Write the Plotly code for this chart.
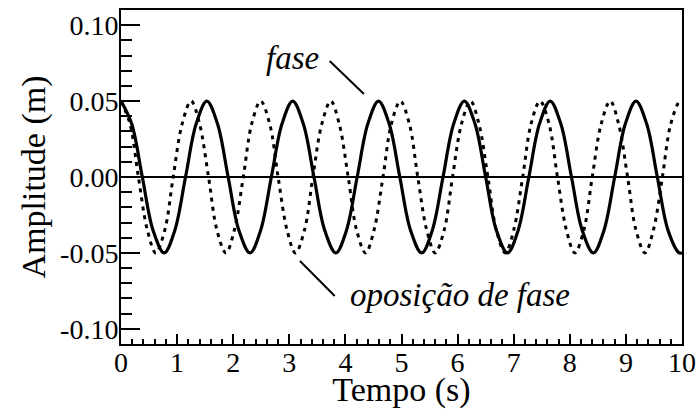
import plotly.graph_objects as go

# Solid curve ("fase"): times (s) and amplitudes (m)
t_fase = [0.00, 0.19, 0.38, 0.57, 0.77, 0.96, 1.15, 1.34, 1.53, 1.72, 1.91, 2.10,
          2.30, 2.49, 2.68, 2.87, 3.06, 3.25, 3.44, 3.63, 3.83, 4.02, 4.21, 4.40,
          4.59, 4.78, 4.97, 5.16, 5.36, 5.55, 5.74, 5.93, 6.12, 6.31, 6.50, 6.69,
          6.89, 7.08, 7.27, 7.46, 7.65, 7.84, 8.03, 8.22, 8.42, 8.61, 8.80, 8.99,
          9.18, 9.37, 9.56, 9.75, 9.95, 10.00]
a_fase = [0.05, 0.035, 0.0, -0.035, -0.05, -0.035, 0.0, 0.035,
          0.05, 0.035, 0.0, -0.035, -0.05, -0.035, 0.0, 0.035,
          0.05, 0.035, 0.0, -0.035, -0.05, -0.035, 0.0, 0.035,
          0.05, 0.035, 0.0, -0.035, -0.05, -0.035, 0.0, 0.035,
          0.05, 0.035, 0.0, -0.035, -0.05, -0.035, 0.0, 0.035,
          0.05, 0.035, 0.0, -0.035, -0.05, -0.035, 0.0, 0.035,
          0.05, 0.035, 0.0, -0.035, -0.05, -0.0499]

# Dotted curve ("oposição de fase")
t_opos = [0.00, 0.16, 0.31, 0.47, 0.62, 0.78, 0.93, 1.09, 1.25, 1.40, 1.56, 1.71,
          1.87, 2.02, 2.18, 2.33, 2.49, 2.65, 2.80, 2.96, 3.11, 3.27, 3.42, 3.58,
          3.74, 3.89, 4.05, 4.20, 4.36, 4.51, 4.67, 4.82, 4.98, 5.14, 5.29, 5.45,
          5.60, 5.76, 5.91, 6.07, 6.23, 6.38, 6.54, 6.69, 6.85, 7.00, 7.16, 7.31,
          7.47, 7.63, 7.78, 7.94, 8.09, 8.25, 8.40, 8.56, 8.72, 8.87, 9.03, 9.18,
          9.34, 9.49, 9.65, 9.80, 9.96, 10.00]
a_opos = [0.05, 0.035, 0.0, -0.035, -0.05, -0.035, 0.0, 0.035,
          0.05, 0.035, 0.0, -0.035, -0.05, -0.035, 0.0, 0.035,
          0.05, 0.035, 0.0, -0.035, -0.05, -0.035, 0.0, 0.035,
          0.05, 0.035, 0.0, -0.035, -0.05, -0.035, 0.0, 0.035,
          0.05, 0.035, 0.0, -0.035, -0.05, -0.035, 0.0, 0.035,
          0.05, 0.035, 0.0, -0.035, -0.05, -0.035, 0.0, 0.035,
          0.05, 0.035, 0.0, -0.035, -0.05, -0.035, 0.0, 0.035,
          0.05, 0.035, 0.0, -0.035, -0.05, -0.035, 0.0, 0.035,
          0.05, 0.0499]

y_ticks = [-0.10, -0.05, 0.00, 0.05, 0.10]
y_labels = ["-0.10", "-0.05", "0.00", "0.05", "0.10"]
x_ticks = list(range(0, 11))

FONT = "Liberation Serif"

fig = go.Figure()
fig.add_trace(go.Scatter(x=t_opos, y=a_opos, mode="lines",
                         line=dict(color="black", width=3, dash="4px,5px", shape="spline", smoothing=1.0),
                         hoverinfo="skip"))
fig.add_trace(go.Scatter(x=t_fase, y=a_fase, mode="lines",
                         line=dict(color="black", width=3.2, shape="spline", smoothing=1.0),
                         hoverinfo="skip"))

# pointer lines for the labels
fig.add_shape(type="line", xref="x", yref="y", x0=3.72, y0=0.0764, x1=4.33, y1=0.0547,
              line=dict(color="black", width=2))
fig.add_shape(type="line", xref="x", yref="y", x0=3.19, y0=-0.0553, x1=3.81, y1=-0.0784,
              line=dict(color="black", width=2))

fig.add_annotation(x=3.06, y=0.0785, xref="x", yref="y", text="<i>fase</i>", showarrow=False,
                   font=dict(family=FONT, size=33, color="black"))
fig.add_annotation(x=6.04, y=-0.0775, xref="x", yref="y", text="<i>oposição de fase</i>", showarrow=False,
                   font=dict(family=FONT, size=33, color="black"))

fig.update_layout(
    width=700, height=409,
    margin=dict(l=121, r=18, t=10, b=65, autoexpand=False),
    paper_bgcolor="white", plot_bgcolor="white",
    showlegend=False,
    font=dict(family=FONT, size=28, color="black"),
)
fig.update_xaxes(
    range=[0, 10], tickvals=x_ticks, ticks="inside", ticklen=10, tickwidth=2, tickcolor="black",
    minor=dict(dtick=0.2, ticks="inside", ticklen=5, tickwidth=2, tickcolor="black"),
    showline=True, linecolor="black", linewidth=2, mirror=True,
    showgrid=False, zeroline=False, automargin=False, ticklabelstandoff=-8,
    tickfont=dict(family=FONT, size=28),
    title=dict(text="Tempo (s)", standoff=3),
)
fig.update_yaxes(
    range=[-0.11, 0.11], tickvals=y_ticks, ticktext=y_labels, ticks="inside", ticklen=19, tickwidth=2,
    tickcolor="black",
    minor=dict(dtick=0.01, ticks="inside", ticklen=11, tickwidth=2, tickcolor="black"),
    showline=True, linecolor="black", linewidth=2, mirror=True,
    showgrid=False, zeroline=True, zerolinecolor="black", zerolinewidth=1.5, automargin=False,
    ticklabelstandoff=-5, tickfont=dict(family=FONT, size=28),
    title=dict(text="Amplitude (m)", standoff=4),
)

fig.write_html("out.html", config={"displayModeBar": False},
               post_script="document.body.style.margin='0px';")
